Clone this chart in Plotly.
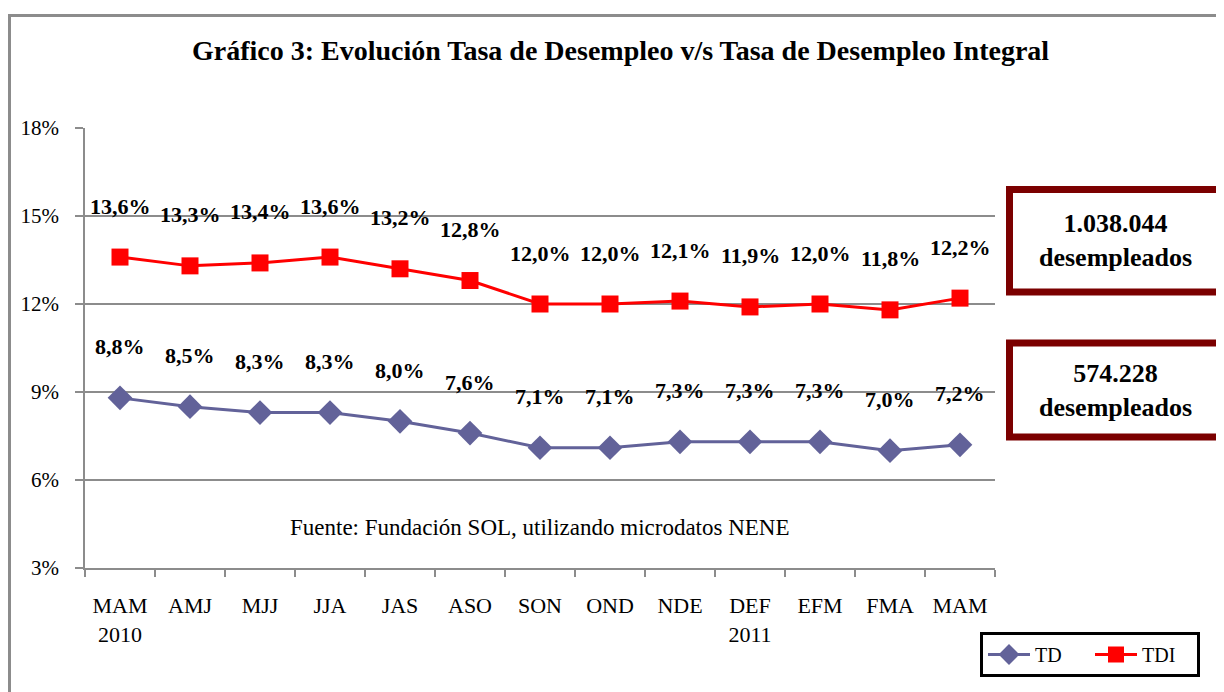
import plotly.graph_objects as go

categories = ["MAM<br>2010", "AMJ", "MJJ", "JJA", "JAS", "ASO", "SON", "OND", "NDE", "DEF<br>2011", "EFM", "FMA", "MAM"]
td = [8.8, 8.5, 8.3, 8.3, 8.0, 7.6, 7.1, 7.1, 7.3, 7.3, 7.3, 7.0, 7.2]
tdi = [13.6, 13.3, 13.4, 13.6, 13.2, 12.8, 12.0, 12.0, 12.1, 11.9, 12.0, 11.8, 12.2]
yticks = [3, 6, 9, 12, 15, 18]
box_texts = ["<b>1.038.044<br>desempleados</b>", "<b>574.228<br>desempleados</b>"]

SERIF = "Liberation Serif, Times New Roman, serif"
TD_COLOR = "#626299"
TDI_COLOR = "#FF0000"
GRID = "#8C8C8C"

# page body has an 8px margin: figure origin sits at screen (8, 8)
OFF = 8
W, H = 1224 - OFF, 692 - OFF
L, T = 85 - OFF, 128 - OFF
PW, PH = 910, 440
R, B = W - L - PW, H - T - PH


def px(x):
    return (x - OFF - L) / PW


def py(y):
    return (T + PH - (y - OFF)) / PH


fig = go.Figure()
fig.add_trace(go.Scatter(
    x=categories, y=td, name="TD", mode="lines+markers",
    line=dict(color=TD_COLOR, width=3),
    marker=dict(symbol="diamond", size=19, color=TD_COLOR),
))
fig.add_trace(go.Scatter(
    x=categories, y=tdi, name="TDI", mode="lines+markers",
    line=dict(color=TDI_COLOR, width=3),
    marker=dict(symbol="square", size=17, color=TDI_COLOR),
))

annotations = []
for series in (td, tdi):
    for cat, v in zip(categories, series):
        annotations.append(dict(
            x=cat, y=v, xref="x", yref="y",
            text="<b>" + f"{v:.1f}".replace(".", ",") + "%</b>",
            showarrow=False, yshift=51,
            xanchor="center", yanchor="middle",
            font=dict(family=SERIF, size=22, color="black"),
        ))

annotations.append(dict(
    x=px(620), y=py(50), xref="paper", yref="paper",
    xanchor="center", yanchor="middle",
    text="<b>Gráfico 3: Evolución Tasa de Desempleo v/s Tasa de Desempleo Integral</b>",
    showarrow=False, font=dict(family=SERIF, size=28, color="black"),
))
annotations.append(dict(
    x=px(540), y=py(527), xref="paper", yref="paper",
    xanchor="center", yanchor="middle",
    text="Fuente: Fundación SOL, utilizando microdatos NENE",
    showarrow=False, font=dict(family=SERIF, size=23, color="black"),
))

box_geoms = [(1009.5, 189.5, 1221, 292), (1009.5, 343, 1221, 437)]
shapes = [dict(
    type="rect", xref="paper", yref="paper",
    x0=px(9.5), x1=px(1240), y0=py(15.5), y1=py(720),
    line=dict(color="#8C8C8C", width=3), layer="below",
)]
for (x0, y0, x1, y1), txt in zip(box_geoms, box_texts):
    shapes.append(dict(
        type="rect", xref="paper", yref="paper",
        x0=px(x0), x1=px(x1), y0=py(y0), y1=py(y1),
        line=dict(color="#7B0000", width=7), fillcolor="white",
    ))
    annotations.append(dict(
        x=px((x0 + x1) / 2), y=py((y0 + y1) / 2), xref="paper", yref="paper",
        xanchor="center", yanchor="middle",
        text=txt, showarrow=False,
        font=dict(family=SERIF, size=26, color="black"),
    ))

fig.update_layout(
    width=W, height=H,
    margin=dict(l=L, r=R, t=T, b=B),
    paper_bgcolor="white", plot_bgcolor="white",
    font=dict(family=SERIF, size=21, color="black"),
    showlegend=True,
    legend=dict(
        orientation="h", x=px(980), y=py(632), xanchor="left", yanchor="top",
        bordercolor="black", borderwidth=3, bgcolor="white",
        font=dict(family=SERIF, size=20, color="black"),
        itemwidth=42, entrywidth=50, tracegroupgap=0,
    ),
    annotations=annotations,
    shapes=shapes,
)
fig.update_xaxes(
    type="category", range=[-0.5, len(categories) - 0.5],
    tickson="boundaries", ticks="outside", ticklen=7, tickcolor=GRID, tickwidth=1.5,
    showline=True, linecolor=GRID, linewidth=1.5,
    showgrid=False, zeroline=False,
    tickfont=dict(family=SERIF, size=22, color="black"),
    ticklabelstandoff=17,
)
fig.update_yaxes(
    range=[3, 18], tickmode="array", tickvals=yticks,
    ticktext=[f"{v}%" for v in yticks],
    ticks="outside", ticklen=8, tickcolor=GRID, tickwidth=1.5,
    showline=True, linecolor=GRID, linewidth=1.5,
    showgrid=True, gridcolor=GRID, gridwidth=1.5,
    zeroline=False,
    tickfont=dict(family=SERIF, size=21, color="black"),
    ticklabelstandoff=12,
)

fig.write_html("out.html")
